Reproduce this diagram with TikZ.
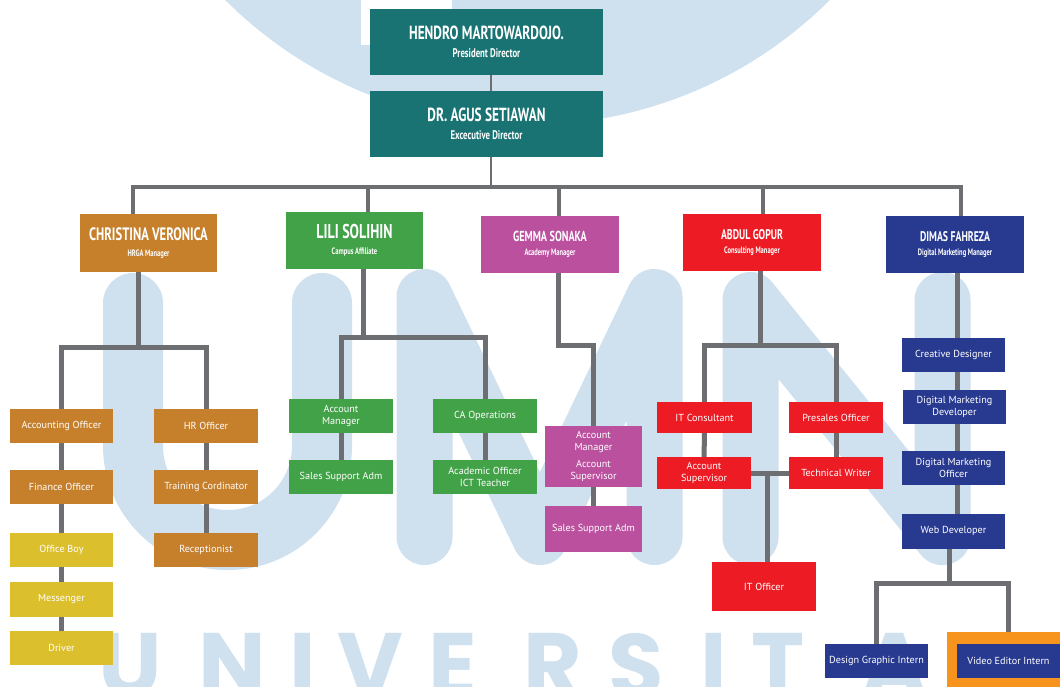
\documentclass[tikz,border=0pt]{standalone}
\usepackage{fontspec}
\setmainfont{PT Sans}
\newfontfamily\headfont[FakeStretch=0.7]{PT Sans}
\newfontfamily\wmfont{Poppins}
\pgfdeclarelayer{wm}
\pgfdeclarelayer{bg}
\pgfsetlayers{wm,bg,main}
\definecolor{cTeal}{HTML}{1A7373}
\definecolor{cOrange}{HTML}{C67F2B}
\definecolor{cYellow}{HTML}{DBBF2C}
\definecolor{cGreen}{HTML}{42A248}
\definecolor{cMagenta}{HTML}{BA509E}
\definecolor{cRed}{HTML}{ED1C24}
\definecolor{cNavy}{HTML}{283A90}
\definecolor{cFrame}{HTML}{F7941D}
\definecolor{cLine}{HTML}{6D6E71}
\definecolor{cWM}{HTML}{CFE0EF}
\tikzset{
  box/.style={rectangle, inner sep=0pt, text=white, align=center,
    font=\fontsize{10.2}{12.5}\selectfont, minimum width=103pt, minimum height=34pt},
  topbox/.style={box, fill=cTeal, minimum width=233pt, minimum height=66pt},
  headbox/.style={box, minimum width=137pt, minimum height=57pt},
  conn/.style={draw=cLine, line width=5pt},
  thinconn/.style={draw=cLine, line width=2.5pt},
  busline/.style={draw=cLine, line width=4pt, line cap=rect},
  dropline/.style={draw=cLine, line width=3.5pt},
  wmletter/.style={text=cWM, inner sep=0pt, anchor=north, font=\wmfont\bfseries\fontsize{90}{90}\selectfont},
  wmstroke/.style={draw=cWM, line cap=round, line join=round}
}
\newcommand{\bigname}[2]{{\headfont\bfseries\fontsize{#1}{#1}\selectfont #2}}
\begin{document}
\begin{tikzpicture}[x=1pt, y=-1pt]
\useasboundingbox (0,0) rectangle (1060,686);

% ---------- boxes ----------
\node[topbox] (hendro) at (486.5,42)
  {\bigname{19}{HENDRO MARTOWARDOJO.}\\[6pt]\bigname{12.5}{President Director}};
\node[topbox] (agus) at (486.5,124)
  {\bigname{19}{DR. AGUS SETIAWAN}\\[6pt]\bigname{12.5}{Excecutive Director}};

\node[headbox, fill=cOrange, minimum height=58pt] (christina) at (148.5,243)
  {\bigname{18}{CHRISTINA VERONICA}\\[3pt]\bigname{9.3}{HRGA Manager}};
\node[headbox, fill=cGreen] (lili) at (354.5,240.5)
  {\bigname{20}{LILI SOLIHIN}\\[3pt]\bigname{9.3}{Campus Affiliate}};
\node[headbox, fill=cMagenta, minimum width=138pt] (gemma) at (550,244.5)
  {\bigname{14.5}{GEMMA SONAKA}\\[2pt]\bigname{9.3}{Academy Manager}};
\node[headbox, fill=cRed, minimum width=138pt] (abdul) at (752,242.5)
  {\bigname{14}{ABDUL GOPUR}\\[2pt]\bigname{9.3}{Consulting Manager}};
\node[headbox, fill=cNavy, minimum width=138pt] (dimas) at (955,244.5)
  {\bigname{14}{DIMAS FAHREZA}\\[2pt]\bigname{9.3}{Digital Marketing Manager}};

% Christina subtree
\node[box, fill=cOrange] (acc) at (61.5,426) {Accounting Officer};
\node[box, fill=cOrange] (fin) at (61.5,487) {Finance Officer};
\node[box, fill=cYellow] (boy) at (61.5,550) {Office Boy};
\node[box, fill=cYellow, minimum height=35pt] (mes) at (61.5,599.5) {Messenger};
\node[box, fill=cYellow] (drv) at (61.5,648) {Driver};
\node[box, fill=cOrange, minimum width=104pt] (hr) at (206,426) {HR Officer};
\node[box, fill=cOrange, minimum width=104pt] (trn) at (206,487) {Training Cordinator};
\node[box, fill=cOrange, minimum width=104pt] (rec) at (206,550) {Receptionist};

% Lili subtree
\node[box, fill=cGreen, minimum width=104pt] (am) at (341,416) {Account\\Manager};
\node[box, fill=cGreen, minimum width=104pt] (ssa) at (341,477) {Sales Support Adm};
\node[box, fill=cGreen, minimum width=104pt] (cao) at (485,416) {CA Operations};
\node[box, fill=cGreen, minimum width=104pt] (aca) at (485,477) {Academic Officer\\ICT Teacher};

% Gemma subtree
\node[box, fill=cMagenta, minimum width=97pt, minimum height=61pt] (gam) at (593.5,456.5)
  {Account\\Manager\\[4pt]Account\\Supervisor};
\node[box, fill=cMagenta, minimum width=97pt, minimum height=46pt] (gssa) at (593.5,529) {Sales Support Adm};

% Abdul subtree
\node[box, fill=cRed, minimum width=95pt, minimum height=31pt] (itc) at (704.5,417.5) {IT Consultant};
\node[box, fill=cRed, minimum width=94pt, minimum height=31pt] (pre) at (836,417.5) {Presales Officer};
\node[box, fill=cRed, minimum width=94pt, minimum height=32pt] (asup) at (704,473) {Account\\Supervisor};
\node[box, fill=cRed, minimum width=94pt, minimum height=32pt] (tw) at (836,473) {Technical Writer};
\node[box, fill=cRed, minimum width=104pt, minimum height=49pt] (ito) at (764,586.5) {IT Officer};

% Dimas subtree
\node[box, fill=cNavy] (cd) at (953.5,355) {Creative Designer};
\node[box, fill=cNavy] (dmd) at (954.5,407) {Digital Marketing\\Developer};
\node[box, fill=cNavy] (dmo) at (953.5,468) {Digital Marketing\\Officer};
\node[box, fill=cNavy, minimum height=35pt] (web) at (953.5,531) {Web Developer};
\fill[cFrame] (947,632) rectangle (1065,690);
\node[box, fill=cNavy] (dgi) at (876.5,661) {Design Graphic Intern};
\node[box, fill=cNavy] (vei) at (1008.5,661) {Video Editor Intern};

% ---------- connectors ----------
\begin{pgfonlayer}{bg}
\coordinate (busL) at (133,187);
\coordinate (busR) at (961,187);
\coordinate (b0) at (491,187);
\coordinate (d2) at (368,187);
\coordinate (d3) at (559,187);
\coordinate (d4) at (763,187);
\draw[thinconn] ([xshift=4.5pt]hendro.south) -- ([xshift=4.5pt]agus.north);
\draw[thinconn] (b0 |- agus.south) -- (b0);
\draw[busline] (busL) -- (busR);
\draw[dropline] (busL) -- (busL |- christina.north);
\draw[dropline] (d2) -- (d2 |- lili.north);
\draw[dropline] (d3) -- (d3 |- gemma.north);
\draw[dropline] (d4) -- (d4 |- abdul.north);
\draw[dropline] (busR) -- (busR |- dimas.north);

% Christina
\coordinate (c1) at (138,347);
\draw[conn] (c1 |- christina.south) -- (c1);
\draw[conn] (acc.center) |- (c1) -| (hr.center);
\draw[conn] (acc) -- (fin) -- (boy) -- (mes) -- (drv);
\draw[conn] (hr) -- (trn) -- (rec);

% Lili
\coordinate (l1) at (363,337);
\draw[conn] (l1 |- lili.south) -- (l1);
\draw[conn] (am.center) |- (l1) -| (cao.center);
\draw[conn] (am) -- (ssa);
\draw[conn] (cao) -- (aca);

% Gemma
\coordinate (g1) at (558,345);
\draw[conn] (g1 |- gemma.south) -- (g1) -| (gam.center);
\draw[conn] (gam) -- (gssa);

% Abdul
\coordinate (a1) at (760,345);
\coordinate (a2) at (767,473);
\draw[conn] (a1 |- abdul.south) -- (a1);
\draw[conn] (itc.center) |- (a1) -| (pre.center);
\draw[conn] (itc) -- (asup);
\draw[conn] (pre) -- (tw);
\draw[conn] (asup) -- (tw);
\draw[conn] (a2) -- (a2 |- ito.center);

% Dimas
\coordinate (dx) at (957,300);
\coordinate (w1) at (949,583);
\draw[conn] (dx |- dimas.south) -- (dx |- web.center);
\draw[conn] (w1 |- web.south) -- (w1);
\draw[conn] (dgi.center) |- (w1) -| (vei.center);
\end{pgfonlayer}

% ---------- watermark ----------
\begin{pgfonlayer}{wm}
\fill[white] (0,0) rectangle (1060,686);
\clip (0,0) rectangle (1060,686);
\fill[cWM] (527.5,-303) circle[radius=428pt];
\fill[white] (361,-5) rectangle (452,45);
\draw[wmstroke, line width=60pt, rounded corners=94pt] (133,303) -- (133,540) -- (322,540) -- (322,303);
\draw[wmstroke, line width=56pt] (424.5,537) -- (424.5,297) -- (540,537) -- (654.5,297) -- (654.5,537);
\draw[wmstroke, line width=56pt] (750.5,537) -- (750.5,300) -- (942.5,537) -- (942.5,300);
\node[wmletter] (wm1) at (130,633) {U};
\node[wmletter] (wm2) at (232,633) {N};
\node[wmletter] (wm3) at (303,633) {I};
\node[wmletter] (wm4) at (370,633) {V};
\node[wmletter] (wm5) at (453,633) {E};
\node[wmletter] (wm6) at (553,633) {R};
\node[wmletter] (wm7) at (636,633) {S};
\node[wmletter] (wm8) at (714,633) {I};
\node[wmletter] (wm9) at (778,633) {T};
\node[wmletter] (wm10) at (895,633) {A};
\node[wmletter] (wm11) at (995,633) {S};
\end{pgfonlayer}
\end{tikzpicture}
\end{document}
